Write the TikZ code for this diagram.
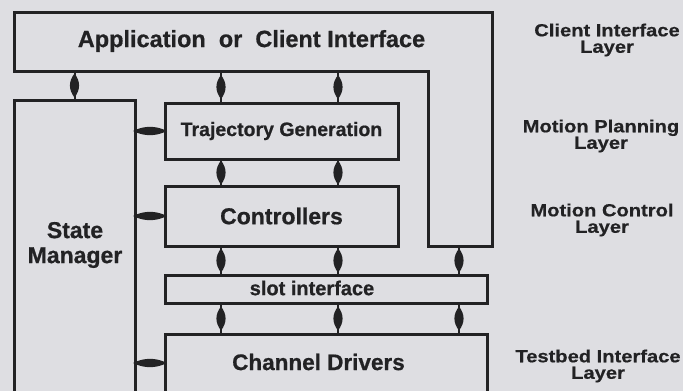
\documentclass[tikz,border=0pt]{standalone}
\usepackage{fontspec}
\setmainfont{Liberation Sans}[BoldFeatures={FakeBold=0.7}]
\newfontfamily\lblfont{Liberation Sans}[FakeStretch=1.15, BoldFeatures={FakeBold=0.6}]
\usetikzlibrary{decorations.markings}
\definecolor{paper}{RGB}{222,222,226}
\definecolor{ink}{RGB}{34,34,36}
\tikzset{
  box/.style={draw=ink, line width=3pt, inner sep=0pt, outer sep=0pt},
  ghost/.style={inner sep=0pt, outer sep=0pt},
  txt/.style={text=ink, inner sep=0pt, align=center},
  lbl/.style={text=ink, inner sep=0pt, align=center, font=\lblfont\bfseries\fontsize{17.5}{16.5}\selectfont},
  lens/.style 2 args={draw=ink, line width=2pt,
    postaction={decorate, decoration={markings,
      mark=at position 0.5 with {\fill[ink] (-#1,0) .. controls (-#1/3,#2*1.33) and (#1/3,#2*1.33) .. (#1,0)
        .. controls (#1/3,-#2*1.33) and (-#1/3,-#2*1.33) .. (-#1,0) -- cycle;}}}},
  vlink/.style={lens={12}{4.6}},
  hlink/.style={lens={17}{4.2}},
}
\begin{document}
\begin{tikzpicture}[x=1pt,y=-1pt]
\clip (0,0) rectangle (683,391);
\fill[paper] (0,0) rectangle (683,391);

% application / client interface (hook shape)
\node[ghost, minimum width=478, minimum height=59] (app) at (253,41.5) {};
\node[ghost, minimum width=64, minimum height=175] (appcol) at (460,158.5) {};
\draw[ink, line width=3pt, line join=miter]
  (app.north west) -- (app.north east) -- (appcol.south east)
  -- (appcol.south west) -- (appcol.north west) -- (app.south west) -- cycle;
\node[txt, font=\bfseries\fontsize{23.5}{25}\selectfont] (appt) at (251.5,41) {Application\ \ or\ \ Client Interface};

% boxes
\node[box, minimum width=121, minimum height=330] (sm) at (74.5,265) {};
\node[txt, font=\bfseries\fontsize{23}{25}\selectfont] (smt) at (75,245) {State\\Manager};

\node[box, minimum width=233, minimum height=56, font=\bfseries\fontsize{19.5}{21}\selectfont, text=ink] (traj) at (281.5,131) {Trajectory Generation};
\node[box, minimum width=233, minimum height=60, font=\bfseries\fontsize{23}{25}\selectfont, text=ink] (ctrl) at (281.5,216) {Controllers};
\node[box, minimum width=322, minimum height=28] (slot) at (326,289) {};
\node[txt, font=\bfseries\fontsize{20}{22}\selectfont] (slott) at (312,288) {slot interface};
\node[box, minimum width=322, minimum height=96] (chan) at (326,382) {};
\node[txt, font=\bfseries\fontsize{22.5}{24}\selectfont] (chant) at (318.5,362) {Channel Drivers};

% layer labels
\node[lbl] (l1) at (607,40) {Client Interface\\Layer};
\node[lbl] (l2) at (601,136) {Motion Planning\\Layer};
\node[lbl] (l3) at (602,220) {Motion Control\\Layer};
\node[lbl] (l4) at (598,366) {Testbed Interface\\Layer};

% connector positions
\coordinate (xa) at (221,0);
\coordinate (xb) at (338,0);
\coordinate (xc) at (459,0);
\coordinate (ych) at (0,363);

\draw[vlink] (app.south -| sm) -- (sm.north);
\draw[vlink] (app.south -| xa) -- (traj.north -| xa);
\draw[vlink] (app.south -| xb) -- (traj.north -| xb);
\draw[vlink] (traj.south -| xa) -- (ctrl.north -| xa);
\draw[vlink] (traj.south -| xb) -- (ctrl.north -| xb);
\draw[vlink] (ctrl.south -| xa) -- (slot.north -| xa);
\draw[vlink] (ctrl.south -| xb) -- (slot.north -| xb);
\draw[vlink] (appcol.south -| xc) -- (slot.north -| xc);
\draw[vlink] (slot.south -| xa) -- (chan.north -| xa);
\draw[vlink] (slot.south -| xb) -- (chan.north -| xb);
\draw[vlink] (slot.south -| xc) -- (chan.north -| xc);

\draw[hlink] (sm.east |- traj) -- (traj.west);
\draw[hlink] (sm.east |- ctrl) -- (ctrl.west);
\draw[hlink] (sm.east |- ych) -- (chan.west |- ych);
\end{tikzpicture}
\end{document}
